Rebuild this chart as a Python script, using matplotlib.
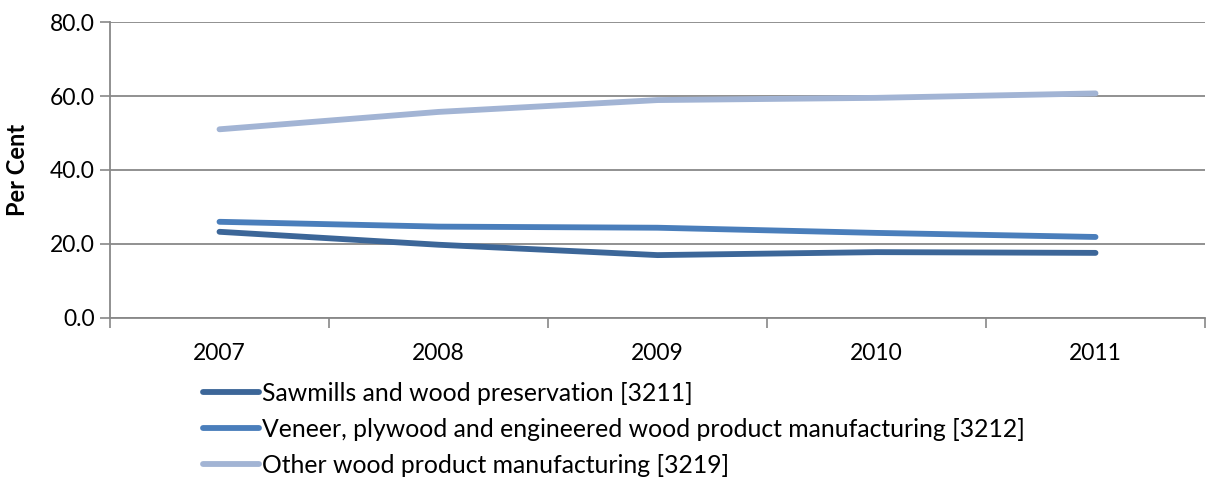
import matplotlib
matplotlib.use("Agg")
import matplotlib.pyplot as plt
from matplotlib.lines import Line2D

years = ["2007", "2008", "2009", "2010", "2011"]
sawmills = [23.3, 19.8, 17.0, 17.8, 17.6]
veneer = [26.0, 24.7, 24.4, 23.0, 21.9]
other = [51.0, 55.7, 58.9, 59.5, 60.7]
labels = ["Sawmills and wood preservation [3211]",
          "Veneer, plywood and engineered wood product manufacturing [3212]",
          "Other wood product manufacturing [3219]"]
colors = ["#3C6698", "#4A7EBB", "#A2B4D4"]

plt.rcParams['font.family'] = ['Lato', 'DejaVu Sans']

fig = plt.figure(figsize=(12.07, 4.79), dpi=100)
ax = fig.add_axes([110/1207, 1-318/479, 1095/1207, 296/479])

x = list(range(len(years)))
for ys, c, lab in zip([sawmills, veneer, other], colors, labels):
    ax.plot(x, ys, color=c, lw=4.2, solid_capstyle='round', label=lab)

ax.set_xlim(-0.5, 4.5)
ax.set_ylim(0, 80)
ax.set_yticks([0, 20, 40, 60, 80])
ax.set_yticklabels([f"{v:.1f}" for v in [0, 20, 40, 60, 80]], fontsize=16.5)
ax.set_xticks(x)
ax.set_xticklabels(years, fontsize=16.5)
ax.set_xticks([i - 0.5 for i in range(6)], minor=True)
ax.tick_params(axis='x', which='major', length=0, pad=18)
ax.tick_params(axis='x', which='minor', length=7, color='#888888', width=1.2)
ax.tick_params(axis='y', length=7, color='#888888', width=1.2, pad=4)
ax.grid(axis='y', color='#888888', lw=1.3)
ax.set_axisbelow(True)
for s in ['top', 'right']:
    ax.spines[s].set_visible(False)
for s in ['left', 'bottom']:
    ax.spines[s].set_color('#888888')
    ax.spines[s].set_linewidth(1.3)
ax.set_ylabel("Per Cent", fontsize=17, fontweight='bold', labelpad=15)

handles = [Line2D([], [], color=c, lw=4.2, solid_capstyle='round') for c in colors]
fig.legend(handles, labels, loc='upper left', bbox_to_anchor=(203/1207, 1-382/479),
           frameon=False, fontsize=17.8, handlelength=2.25, handletextpad=0.12,
           labelspacing=0.52, borderaxespad=0, borderpad=0)

fig.savefig("out.png", dpi=100)
